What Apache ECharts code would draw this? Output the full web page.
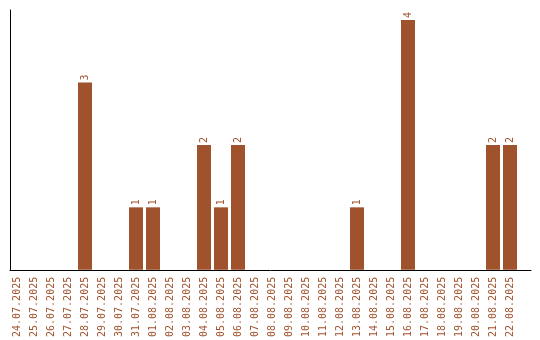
<!DOCTYPE html>
<html><head><meta charset="utf-8">
<script src="https://cdn.jsdelivr.net/npm/echarts@6/dist/echarts.min.js"></script>
<style>html,body{margin:0;padding:0;background:#fff}#c{width:540px;height:340px}</style>
</head><body><div id="c"></div>
<script>
const categories = ["24.07.2025","25.07.2025","26.07.2025","27.07.2025","28.07.2025","29.07.2025","30.07.2025","31.07.2025","01.08.2025","02.08.2025","03.08.2025","04.08.2025","05.08.2025","06.08.2025","07.08.2025","08.08.2025","09.08.2025","10.08.2025","11.08.2025","12.08.2025","13.08.2025","14.08.2025","15.08.2025","16.08.2025","17.08.2025","18.08.2025","19.08.2025","20.08.2025","21.08.2025","22.08.2025"];
const counts = [0,0,0,0,3,0,0,1,1,0,0,2,1,2,0,0,0,0,0,0,1,0,0,4,0,0,0,0,2,2];

const color = '#a0522d';
const font = 'DejaVu Sans Mono';
const chart = echarts.init(document.getElementById('c'), null, {renderer:'canvas'});
chart.setOption({
  animation:false,
  backgroundColor:'#fff',
  grid:[
    {left:8.5, width:510, top:10, bottom:70},
    {left:10, right:9, top:10, bottom:70}
  ],
  xAxis:[
    {type:'category', gridIndex:0, data:categories, axisLine:{show:false}, axisTick:{show:false},
     axisLabel:{rotate:90, interval:0, color:color, fontFamily:font, fontSize:10, margin:7}},
    {type:'value', gridIndex:1, min:0, max:1, axisLine:{show:true, lineStyle:{color:'#000', width:1}},
     axisTick:{show:false}, axisLabel:{show:false}, splitLine:{show:false}}
  ],
  yAxis:[
    {type:'value', gridIndex:0, min:0, max:4.16, show:false, splitLine:{show:false}},
    {type:'value', gridIndex:1, min:0, max:4.16, axisLine:{show:true, lineStyle:{color:'#000', width:1}},
     axisTick:{show:false}, axisLabel:{show:false}, splitLine:{show:false}}
  ],
  series:[{
    type:'bar', xAxisIndex:0, yAxisIndex:0, data:counts.map(v=>v===0?null:v),
    barWidth:14, itemStyle:{color:color},
    label:{show:true, position:'top', rotate:90, distance:2, align:'left', verticalAlign:'middle', color:color, fontFamily:font, fontSize:10}
  }]
});
</script></body></html>
